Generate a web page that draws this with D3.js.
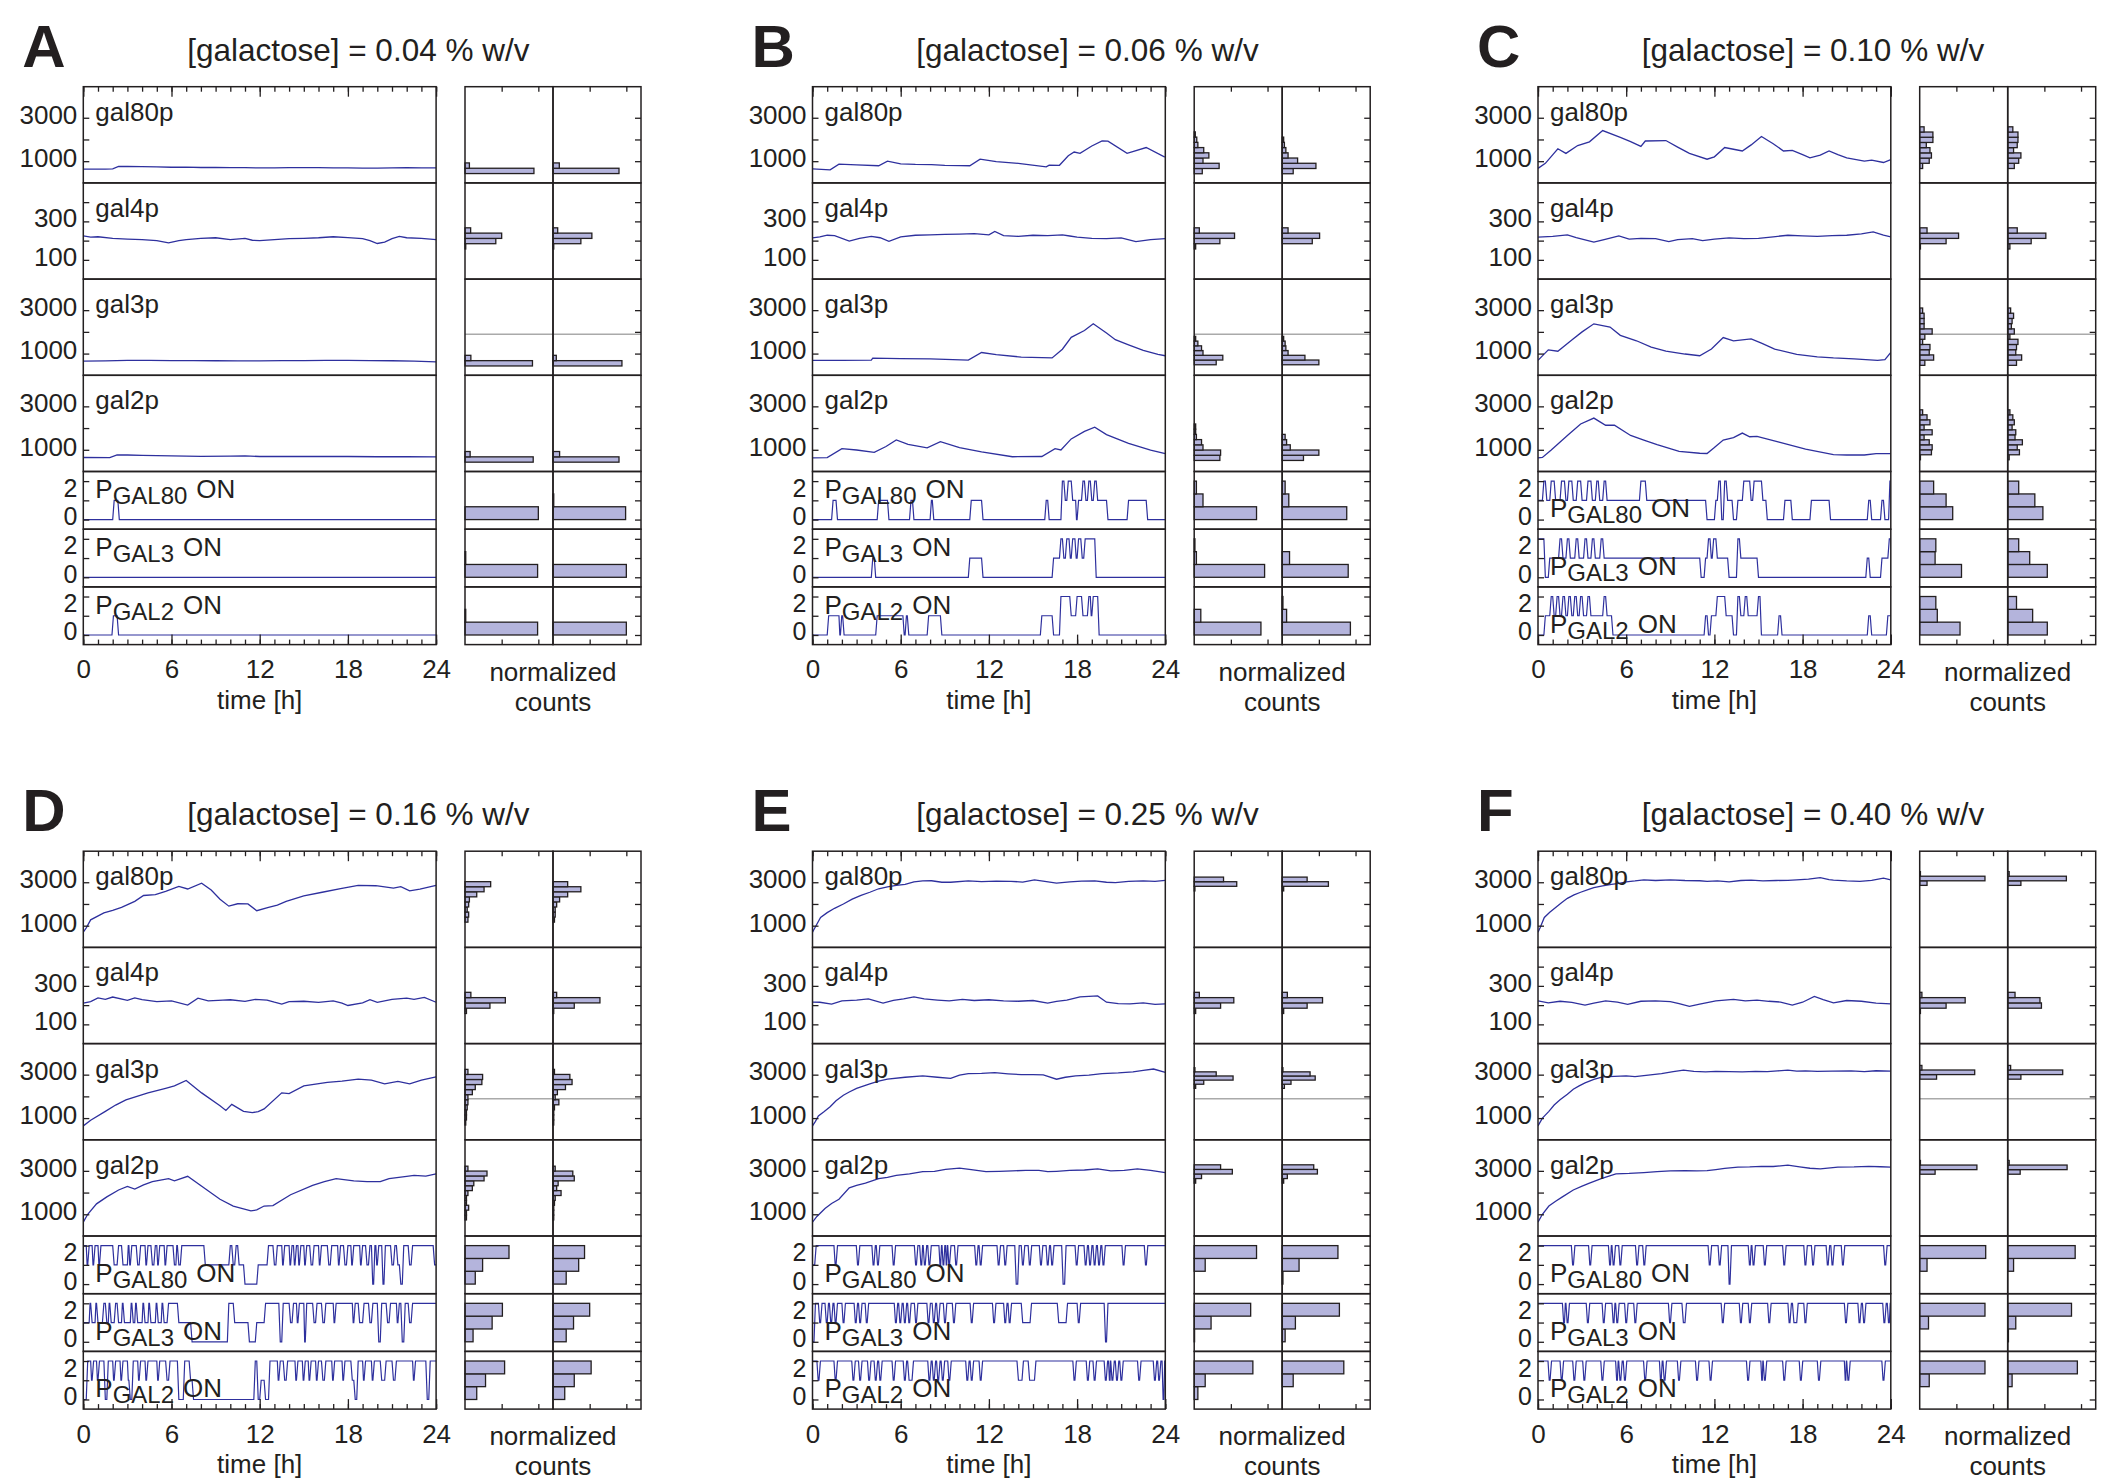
<!DOCTYPE html>
<html>
<head>
<meta charset="utf-8">
<script src="https://d3js.org/d3.v7.min.js"></script>
<style>
body { margin: 0; background: #fff; }
text { font-family: "Liberation Sans", Arial, Helvetica, sans-serif; fill: #231f20; }
</style>
</head>
<body>
<script>
// ---- data ----
var panelIds = ["A", "B", "C", "D", "E", "F"];
var galactose = ["0.04", "0.06", "0.10", "0.16", "0.25", "0.40"];
var timeTicks = [0, 6, 12, 18, 24];
var proteinNames = ["gal80p", "gal4p", "gal3p", "gal2p"];
var promoterNames = ["GAL80", "GAL3", "GAL2"];
var proteinMax = [4430, 500, 4430, 4430];
var proteinTicks = [[1000, 2000, 3000], [100, 200, 300, 400], [1000, 2000, 3000], [1000, 2000, 3000]];
var proteinTickLabels = [[1000, 3000], [100, 300], [1000, 3000], [1000, 3000]];
var promoterTicks = [0, 1, 2];
var promoterTickLabels = [0, 2];
var promoterLabelOnTop = [true, true, false, false, false, false];
var gal3pThreshold = 1890;

// protein traces [time h, molecules], one list per panel A..F
var gal80p = [
  [[0,630],[1.5,630],[2,650],[2.4,755],[3,760],[4,750],[5,740],[6,720],[7,725],[8,710],[9,715],[10,700],[11,705],[12,690],[13,695],[14,700],[15,705],[16,700],[17,695],[18,690],[19,685],[20,680],[21,690],[22,700],[23,695],[24,690]],
  [[0,650],[1.2,600],[1.8,860],[3,830],[4.5,790],[5.1,1000],[6,880],[7,850],[8.1,840],[9,810],[10,800],[10.7,790],[11.4,1090],[12.5,980],[14,900],[15.9,740],[16.1,820],[16.8,810],[17.4,1250],[17.8,1420],[18.2,1360],[19,1700],[19.7,1930],[20.1,1920],[21.4,1360],[22.7,1630],[23.9,1210],[24,1200]],
  [[0,670],[0.5,900],[1.35,1570],[1.9,1360],[2.7,1720],[3.5,1890],[4.4,2410],[5.6,2100],[6.3,1900],[7.0,1680],[7.3,1930],[8.7,1950],[9.5,1650],[10.3,1360],[11.5,1090],[12.0,1200],[12.7,1630],[13.3,1550],[13.9,1470],[14.5,1750],[15.2,2140],[16.0,1800],[16.7,1470],[17.3,1500],[18.0,1300],[18.5,1150],[19.2,1280],[19.8,1470],[20.4,1300],[21,1150],[22.2,1000],[22.7,1050],[23.5,940],[24,1070]],
  [[0,700],[0.2,900],[0.5,1270],[1.4,1590],[2.0,1700],[2.6,1840],[3.5,2120],[4.1,2390],[4.9,2430],[5.6,2580],[6.5,2810],[7.1,2690],[8.05,2960],[8.7,2640],[9.3,2220],[9.9,1900],[10.5,2010],[11.2,2000],[11.8,1690],[12.6,1840],[13.2,1950],[13.8,2120],[15.0,2370],[16.25,2540],[17.5,2710],[18.7,2860],[19.9,2840],[21.1,2730],[21.6,2800],[22.2,2600],[22.9,2680],[24,2860]],
  [[0,700],[0.2,950],[0.55,1380],[1.0,1600],[1.5,1800],[2.1,2000],[2.7,2220],[3.3,2400],[3.9,2540],[4.5,2700],[5.1,2790],[5.7,2860],[6.3,2900],[6.9,3020],[7.5,3060],[8.1,3070],[8.8,3000],[9.4,3000],[10.6,3060],[11.5,3030],[12.5,3050],[13.5,3040],[14.3,3010],[15.1,3110],[15.8,3040],[16.6,2960],[17.5,3020],[18.3,3050],[19.2,3060],[20.0,3000],[20.6,2980],[21.5,3040],[22.5,3060],[23.3,3040],[24,3090]],
  [[0,700],[0.15,920],[0.43,1380],[0.8,1620],[1.2,1840],[1.6,2060],[2.0,2260],[2.45,2420],[2.9,2540],[3.4,2660],[3.8,2750],[4.4,2830],[5.0,2900],[5.5,2950],[6.0,3020],[6.6,3060],[7.2,3110],[8.0,3080],[9.0,3110],[10.0,3080],[11.0,3070],[11.5,3040],[12.2,3060],[13.0,3020],[13.8,3080],[14.5,3100],[15.3,3060],[16.2,3080],[17.0,3090],[17.6,3110],[18.4,3140],[19.2,3210],[19.8,3120],[20.1,3100],[21.0,3060],[21.9,3040],[22.7,3090],[23.5,3190],[24,3110]]
];
var gal4p = [
  [[0,225],[0.5,218],[1,220],[2,212],[3,208],[4,205],[5,200],[5.8,188],[6.5,200],[7,205],[8,212],[9,215],[10,205],[11,212],[11.5,202],[12,200],[13,205],[14,210],[15,212],[16,215],[17,220],[18,216],[19,210],[19.5,200],[20,185],[20.5,192],[21,210],[21.5,222],[22,215],[23,212],[24,205]],
  [[0,214],[0.5,220],[1,228],[1.5,226],[2.5,198],[3.2,212],[4,222],[4.6,215],[5.2,196],[6,220],[7,228],[8,230],[9,232],[10,234],[11,236],[12,230],[12.4,248],[13,226],[14,222],[15,228],[16,226],[17,230],[17.5,224],[18,218],[19,212],[20,210],[21,214],[22,195],[23,205],[24,210]],
  [[0,218],[1,222],[2,230],[2.6,215],[3.8,192],[4.5,205],[5.5,225],[6.2,208],[7,212],[8,210],[8.9,195],[9.5,205],[10.5,210],[11.2,200],[12,208],[13,214],[14,210],[15,212],[16,220],[17,228],[18,225],[19,222],[20,226],[21,228],[22,235],[22.8,245],[23.5,228],[24,220]],
  [[0,210],[0.5,218],[1,238],[1.5,230],[2,242],[3,225],[3.5,238],[4,228],[5,218],[6,222],[7.1,200],[7.8,236],[8.5,222],[9.5,226],[10,228],[11,220],[11.7,230],[12.5,226],[13,215],[13.5,205],[14,218],[15,220],[16,214],[17,222],[17.6,210],[18,198],[19,212],[19.5,228],[20,214],[21,230],[22,236],[22.5,230],[23.2,240],[24,215]],
  [[0,216],[0.5,215],[1.3,205],[2,222],[3,226],[3.8,232],[4.8,210],[5.5,225],[6.2,232],[6.9,243],[7.6,232],[8.5,226],[9.3,222],[10.2,230],[11,224],[12,228],[13,222],[14,220],[15,224],[16,210],[16.6,220],[17.3,226],[18.2,243],[19.4,248],[20,215],[20.8,208],[21.6,206],[22.5,212],[23.3,204],[24,206]],
  [[0,222],[0.7,212],[1.5,220],[2.3,214],[3.2,200],[3.8,210],[4.6,222],[5.4,216],[6.1,204],[7.0,220],[8.0,222],[9.0,218],[9.6,208],[10.3,194],[11.0,205],[12.1,222],[13.3,230],[14.1,222],[14.9,226],[15.7,220],[16.5,216],[17.3,200],[18.0,215],[18.8,245],[19.4,228],[20.1,212],[21.0,224],[22,220],[23,210],[24,206]]
];
var gal3p = [
  [[0,650],[1.5,660],[3,690],[4.5,685],[6,680],[7.5,672],[9,670],[10.5,668],[12,665],[13.5,672],[15,680],[16.5,686],[18,690],[19.5,680],[21,670],[22.5,650],[24,620]],
  [[0,690],[2,685],[4,700],[4.1,790],[6,770],[8,760],[10.6,700],[11.5,1050],[12.5,950],[14.2,840],[16.3,800],[17,1200],[17.6,1750],[18.5,2060],[19.1,2370],[20,1950],[20.6,1640],[21.5,1400],[22.5,1150],[23.5,960],[24,900]],
  [[0,690],[0.7,1170],[1.35,1110],[2.3,1630],[3.0,2000],[3.8,2370],[4.9,2220],[5.6,1840],[6.7,1590],[7.7,1300],[8.7,1110],[10,980],[11.0,900],[11.8,1210],[12.6,1740],[13.3,1590],[14.5,1680],[15.2,1480],[16.1,1210],[17.6,960],[19,850],[20.1,800],[21.5,760],[23.1,690],[23.6,720],[24,1050]],
  [[0,640],[0.5,900],[1.5,1310],[2.2,1600],[2.9,1840],[4.4,2160],[5.6,2370],[6.2,2480],[7.0,2730],[8.05,2160],[9.3,1570],[9.7,1350],[10.1,1630],[10.9,1310],[11.5,1250],[11.9,1300],[12.3,1420],[13.5,2160],[14.0,2130],[15.0,2480],[16.6,2640],[17.6,2700],[18.7,2790],[19.6,2750],[20.5,2580],[21.4,2690],[22.2,2580],[23,2750],[24,2900]],
  [[0,640],[0.2,850],[0.4,1100],[0.8,1300],[1.2,1520],[1.6,1800],[2.1,2050],[2.5,2200],[3.0,2370],[3.9,2580],[4.5,2700],[5.1,2790],[6.3,2880],[7.5,2940],[8.5,2880],[9.4,2830],[10.0,2980],[10.6,3050],[11.5,3060],[12.4,3090],[13.3,3040],[14.2,3000],[15.0,3000],[15.7,2990],[16.6,2790],[17.2,2880],[17.9,2940],[18.8,2980],[19.7,3050],[20.8,3080],[21.8,3130],[22.5,3200],[23.2,3260],[24,3110]],
  [[0,640],[0.3,1000],[0.74,1310],[1.1,1600],[1.5,1840],[2.0,2100],[2.4,2330],[2.8,2480],[3.2,2620],[3.8,2780],[4.4,2900],[5.2,2920],[6.0,2940],[6.6,2910],[7.5,2980],[8.4,3050],[9.2,3140],[9.9,3210],[10.6,3150],[11.4,3130],[12.1,3150],[13.0,3140],[13.9,3130],[14.8,3150],[15.6,3140],[16.3,3170],[17.0,3210],[17.6,3160],[18.2,3170],[19.0,3150],[20.0,3160],[21.3,3170],[22.2,3140],[23.0,3180],[24,3160]]
];
var gal2p = [
  [[0,645],[1.8,640],[2.3,770],[3,760],[4,740],[6,720],[8,700],[10,710],[11,720],[12,690],[14,690],[16,690],[18,690],[20,680],[22,680],[24,670]],
  [[0,630],[1,640],[2,1050],[3,990],[4.2,880],[5,1150],[5.7,1450],[6.5,1250],[7.8,1090],[8.7,1370],[10,1100],[11.5,900],[13.6,680],[15.6,690],[16.5,1050],[16.9,990],[17.6,1500],[18.5,1850],[19.2,2040],[20,1700],[21.5,1300],[23,980],[24,820]],
  [[0,630],[0.3,650],[0.9,990],[2.0,1660],[2.9,2190],[3.8,2460],[4.6,2130],[5.2,2130],[6.3,1660],[7.2,1450],[8.1,1240],[9.6,930],[11.0,840],[11.5,830],[12.0,1100],[12.6,1450],[13.3,1560],[13.9,1770],[14.4,1600],[14.9,1620],[16.4,1350],[18.2,1030],[20.1,780],[21,760],[22.2,760],[23,820],[24,820]],
  [[0,640],[0.3,1000],[0.9,1480],[1.6,1800],[2.4,2120],[3.0,2280],[3.5,2160],[4.1,2350],[4.7,2500],[5.8,2640],[6.2,2540],[7.1,2750],[8.2,2220],[9.3,1690],[10.2,1380],[11.4,1160],[11.8,1200],[12.3,1380],[12.9,1400],[14.1,1900],[15.6,2330],[16.4,2500],[17.2,2640],[18.4,2540],[19.3,2500],[20.2,2500],[20.8,2640],[22.0,2750],[22.5,2790],[23.3,2760],[24,2860]],
  [[0,640],[0.3,900],[0.85,1270],[1.3,1500],[1.8,1690],[2.5,2220],[3.0,2330],[3.6,2430],[4.5,2640],[5.1,2700],[5.7,2790],[6.6,2860],[7.5,2960],[8.3,2980],[9.05,3070],[10.0,3130],[10.8,3060],[11.8,2960],[12.7,2980],[13.6,3000],[14.5,3020],[15.4,3020],[16.0,2960],[16.6,2980],[17.5,3020],[18.5,3040],[19.4,3090],[20.3,3000],[21.2,3020],[22.1,3090],[23.0,3020],[24,2920]],
  [[0,640],[0.3,1000],[0.74,1380],[1.2,1600],[1.66,1800],[2.4,2120],[3.0,2300],[3.5,2430],[4.3,2640],[5.3,2860],[6.2,2880],[7.2,2920],[8.1,2960],[9.0,3000],[10.0,3010],[10.8,3000],[11.5,3010],[12.1,3060],[12.7,3110],[13.6,3170],[14.4,3180],[15.2,3210],[16.0,3200],[17.0,3260],[17.8,3180],[18.5,3120],[19.2,3090],[20.4,3170],[21.5,3180],[22.5,3210],[23.3,3190],[24,3170]]
];

// promoter switching events [time h, number of ON promoters]
var pGAL80 = [
  [[0,0],[2.0,1],[2.35,0]],
  [[0,0],[1.3,1],[1.6,0],[4.4,1],[5.1,0],[6.6,1],[6.8,0],[8.0,1],[8.15,0],[10.7,1],[11.5,0],[15.8,1],[16.0,0],[16.9,2],[17.1,1],[17.3,2],[17.6,1],[17.9,0],[18.0,1],[18.3,2],[18.5,1],[18.7,2],[18.9,1],[19.1,2],[19.3,1],[20.0,0],[21.4,1],[22.7,0]],
  [[0,1],[0.3,2],[0.5,1],[0.8,2],[1.1,1],[1.5,2],[1.8,1],[2.0,2],[2.3,1],[2.6,2],[2.9,1],[3.3,2],[3.6,1],[3.9,2],[4.1,1],[4.4,2],[4.6,1],[6.9,2],[7.3,1],[11.4,0],[12.0,1],[12.2,2],[12.4,0],[12.6,2],[12.8,1],[13.2,0],[13.5,1],[13.9,2],[14.4,1],[14.6,2],[15.2,1],[15.5,0],[16.7,1],[17.2,0],[18.5,1],[19.8,0],[22.4,1],[22.6,0],[23.3,1],[23.5,0],[23.85,2]],
  [[0,2],[0.2,1],[0.3,2],[0.6,1],[0.7,2],[1.0,1],[1.1,2],[2.0,1],[2.3,2],[2.6,1],[3.0,2],[3.1,1],[3.2,2],[3.6,1],[3.8,2],[4.2,1],[4.3,2],[4.6,1],[4.8,2],[5.0,1],[5.1,2],[5.5,1],[5.6,2],[6.1,1],[6.3,2],[6.4,1],[6.6,2],[8.2,1],[9.9,2],[10.1,1],[10.3,2],[10.5,1],[10.9,0],[11.8,1],[12.5,2],[12.9,1],[13.1,2],[13.5,1],[13.6,2],[14.0,1],[14.1,2],[14.3,1],[14.4,2],[14.6,1],[14.7,2],[15.0,1],[15.1,2],[15.4,1],[15.6,2],[16.0,1],[16.1,2],[16.6,1],[16.8,2],[17.3,1],[17.4,2],[17.7,1],[17.9,2],[18.2,1],[18.3,2],[18.8,1],[18.9,2],[19.2,1],[19.4,2],[19.6,0],[19.75,2],[19.9,1],[20.0,2],[20.3,0],[20.45,2],[20.9,1],[21.1,2],[21.3,1],[21.5,0],[21.7,2],[22.1,1],[22.3,2],[23.8,1]],
  [[0,1],[0.15,2],[1.46,1],[1.6,2],[2.98,1],[3.12,2],[4.04,1],[4.18,2],[4.34,1],[4.48,2],[5.41,1],[5.55,2],[6.93,1],[7.07,2],[7.29,1],[7.43,2],[7.53,1],[7.67,2],[7.84,1],[7.98,2],[8.6,1],[8.72,2],[8.81,1],[8.93,2],[9.05,1],[9.13,2],[9.2,1],[9.32,2],[9.66,1],[9.8,2],[11.03,1],[11.17,2],[11.33,1],[11.47,2],[12.55,1],[12.69,2],[13.0,1],[13.14,2],[13.76,0],[13.96,2],[14.2,1],[14.34,2],[14.67,1],[14.81,2],[15.43,1],[15.57,2],[15.89,1],[16.03,2],[16.19,1],[16.33,2],[16.95,0],[17.15,2],[17.86,1],[18.0,2],[18.47,1],[18.61,2],[18.77,1],[18.91,2],[19.08,1],[19.22,2],[19.38,1],[19.52,2],[19.68,1],[19.82,2],[21.05,1],[21.19,2],[22.57,1],[22.71,2]],
  [[0,2],[2.27,1],[2.41,2],[3.44,1],[3.58,2],[4.79,1],[4.93,2],[5.03,1],[5.17,2],[5.49,1],[5.63,2],[6.63,1],[6.77,2],[7.12,1],[7.26,2],[11.57,1],[11.71,2],[12.25,1],[12.39,2],[12.92,0],[13.06,2],[14.3,1],[14.44,2],[14.55,1],[14.69,2],[15.32,1],[15.46,2],[16.64,1],[16.78,2],[18.08,1],[18.22,2],[18.6,1],[18.74,2],[19.6,1],[19.74,2],[19.92,1],[20.06,2],[20.63,1],[20.77,2],[23.51,1],[23.65,2]]
];
var pGAL3 = [
  [[0,0]],
  [[0,0],[4.0,1],[4.2,0],[10.6,1],[11.5,0],[16.3,1],[16.8,2],[17.0,1],[17.2,2],[17.45,1],[17.6,2],[17.85,1],[18.0,2],[18.25,1],[18.45,2],[19.2,0]],
  [[0,2],[0.4,0],[0.7,1],[1.4,2],[1.6,1],[1.9,2],[2.1,1],[2.5,2],[2.7,1],[3.1,2],[3.3,1],[3.6,2],[3.8,1],[4.2,2],[4.4,1],[11.0,0],[11.3,1],[11.5,2],[11.7,1],[11.85,2],[12.1,1],[12.9,0],[13.5,2],[13.7,1],[14.9,0],[22.3,1],[22.5,0],[23.3,1],[23.8,2]],
  [[0,1],[0.4,2],[0.5,1],[0.8,2],[0.9,1],[1.3,2],[1.5,1],[1.7,2],[1.8,1],[2.1,2],[2.3,1],[2.6,2],[2.7,1],[3.2,2],[3.3,1],[3.5,2],[3.6,1],[4.0,2],[4.1,1],[4.4,2],[4.5,1],[4.9,2],[5.0,1],[5.3,2],[5.4,1],[5.7,2],[6.4,1],[7.3,0],[9.8,2],[10.2,1],[11.2,0],[11.7,1],[12.3,2],[13.3,0],[13.5,2],[14.0,1],[14.2,2],[14.5,1],[14.6,2],[15.0,0],[15.1,2],[15.6,1],[15.8,2],[16.2,1],[16.4,2],[17.0,1],[17.1,2],[18.3,1],[18.4,2],[18.7,1],[19.0,2],[19.4,1],[19.6,2],[20.0,0],[20.2,2],[20.6,1],[20.8,2],[21.3,1],[21.4,2],[21.6,0],[21.8,2],[22.1,1],[22.3,2]],
  [[0,0],[0.1,2],[0.4,1],[0.55,2],[0.85,1],[1.0,2],[1.15,1],[1.3,2],[1.46,1],[1.6,2],[2.0,1],[2.14,2],[2.83,1],[2.97,2],[3.13,1],[3.27,2],[3.58,1],[3.72,2],[5.56,1],[5.7,2],[5.86,1],[6.0,2],[6.17,1],[6.31,2],[6.47,1],[6.61,2],[6.93,1],[7.07,2],[7.78,1],[7.92,2],[8.14,1],[8.28,2],[8.44,1],[8.58,2],[8.9,1],[9.04,2],[9.51,1],[9.65,2],[10.72,1],[10.86,2],[12.24,1],[12.38,2],[13.0,1],[13.14,2],[13.3,1],[13.44,2],[14.2,1],[14.8,2],[16.65,1],[17.25,2],[18.0,1],[18.14,2],[19.84,0],[20.0,2]],
  [[0,2],[1.66,1],[1.8,2],[1.9,1],[2.04,2],[3.28,1],[3.42,2],[4.36,1],[4.5,2],[5.03,1],[5.17,2],[5.28,1],[5.42,2],[5.89,1],[6.03,2],[6.51,1],[6.65,2],[8.87,1],[9.01,2],[9.79,1],[10.0,2],[12.46,1],[12.6,2],[13.69,1],[13.83,2],[14.3,1],[14.44,2],[15.62,1],[15.76,2],[17.0,1],[17.14,2],[17.31,1],[17.6,2],[18.08,1],[18.22,2],[20.84,1],[20.98,2],[21.76,1],[21.9,2],[22.07,1],[22.21,2],[23.45,1],[23.59,2],[23.76,1],[23.9,2]]
];
var pGAL2 = [
  [[0,0],[1.95,1],[2.3,0]],
  [[0,0],[1.0,1],[1.8,0],[1.9,1],[2.05,0],[4.3,1],[6.15,0],[6.3,1],[6.45,0],[7.8,1],[8.7,0],[15.5,1],[16.3,0],[16.8,2],[17.5,1],[17.9,2],[18.3,1],[18.7,2],[18.9,1],[19.0,2],[19.4,0]],
  [[0,0],[0.4,1],[0.8,2],[1.0,1],[1.2,2],[1.4,1],[1.6,2],[1.8,1],[2.0,2],[2.2,1],[2.4,2],[2.6,1],[2.8,2],[3.0,1],[3.3,2],[3.5,1],[4.4,2],[4.6,1],[5.0,0],[11.3,1],[11.5,0],[11.7,1],[12.1,2],[12.7,1],[13.2,0],[13.5,2],[13.7,1],[14.0,2],[14.2,1],[14.9,2],[15.1,0],[16.3,1],[16.5,0],[22.4,1],[22.6,0],[23.7,1]],
  [[0,0],[0.2,2],[0.5,1],[0.6,2],[0.9,1],[1.0,2],[1.4,0],[1.6,2],[2.0,1],[2.1,2],[2.5,1],[2.6,2],[3.0,1],[3.1,0],[3.3,2],[3.7,1],[3.8,2],[4.2,1],[4.3,2],[5.0,1],[5.1,2],[5.6,1],[5.8,2],[6.4,0],[6.8,2],[7.2,1],[7.4,0],[11.6,2],[11.8,0],[12.0,1],[12.3,0],[12.6,2],[13.2,1],[13.3,2],[13.6,1],[13.8,2],[14.4,1],[14.5,2],[14.9,1],[15.0,2],[15.3,1],[15.4,2],[15.8,1],[15.9,2],[16.2,1],[16.4,2],[16.9,1],[17.0,2],[17.6,1],[17.7,2],[18.2,1],[18.4,0],[18.6,2],[19.0,1],[19.1,2],[19.6,1],[19.7,2],[20.2,1],[20.5,2],[21.0,1],[21.2,2],[22.4,1],[22.5,2],[23.3,0],[23.5,2]],
  [[0,2],[0.3,1],[0.44,2],[1.46,1],[1.6,2],[2.67,1],[2.81,2],[3.13,1],[3.27,2],[3.74,1],[3.88,2],[4.19,1],[4.33,2],[4.5,1],[4.64,2],[5.41,1],[5.55,2],[6.17,1],[6.31,2],[6.47,1],[6.77,2],[7.84,1],[7.98,2],[8.14,1],[8.28,2],[8.44,1],[8.58,2],[8.75,1],[8.89,2],[9.2,1],[9.34,2],[10.42,1],[10.56,2],[10.72,1],[10.86,2],[11.33,1],[11.47,2],[13.91,1],[14.25,2],[14.67,1],[15.1,2],[17.71,1],[17.85,2],[18.62,1],[18.76,2],[19.08,1],[19.22,2],[19.84,1],[19.98,2],[20.14,1],[20.24,2],[20.29,1],[20.43,2],[20.6,1],[20.74,2],[20.9,1],[21.04,2],[22.11,1],[22.25,2],[23.18,1],[23.32,2],[23.48,1],[23.6,2],[23.78,0],[23.9,2]],
  [[0,2],[0.68,1],[0.82,2],[1.5,1],[1.64,2],[2.36,1],[2.5,2],[3.04,1],[3.18,2],[4.27,1],[4.41,2],[5.28,1],[5.4,2],[5.49,1],[5.63,2],[5.8,1],[5.94,2],[7.18,1],[7.32,2],[8.26,1],[8.38,2],[8.5,1],[8.64,2],[9.48,1],[9.62,2],[10.71,1],[10.85,2],[11.63,1],[11.77,2],[14.18,1],[14.32,2],[15.16,1],[15.26,2],[15.32,1],[15.46,2],[16.64,1],[16.78,2],[17.77,1],[17.91,2],[19.0,1],[19.14,2],[20.84,1],[20.94,2],[21.0,1],[21.14,2],[23.39,1],[23.53,2]]
];

// protein histograms: [first bin edge, bin width, counts column 1 (low->high), counts column 2]
var histGal80p = [
  [430, 245, [0.94, 0.06], [0.90, 0.086]],
  [422, 241, [0.11, 0.34, 0.12, 0.20, 0.13, 0.05, 0.035, 0.015], [0.15, 0.46, 0.21, 0.08, 0.05, 0.03, 0.02]],
  [663, 240, [0.04, 0.13, 0.16, 0.14, 0.09, 0.18, 0.18, 0.06], [0.09, 0.15, 0.18, 0.08, 0.13, 0.14, 0.14, 0.07]],
  [1163, 233, [0.04, 0.05, 0.03, 0.05, 0.06, 0.16, 0.26, 0.35], [0.02, 0.03, 0.03, 0.05, 0.09, 0.20, 0.38, 0.20]],
  [2601, 212, [0.01, 0.58, 0.40], [0.02, 0.63, 0.34]],
  [2856, 211, [0.10, 0.89, 0.01], [0.18, 0.80, 0.02]]
];
var histGal4p = [
  [156.5, 27.5, [0.01, 0.42, 0.50, 0.077], [0.01, 0.38, 0.53, 0.064]],
  [156.5, 27.5, [0.02, 0.35, 0.55, 0.07], [0, 0.41, 0.51, 0.08]],
  [156.5, 27.5, [0.01, 0.36, 0.53, 0.10], [0.03, 0.32, 0.52, 0.13]],
  [156.5, 27.5, [0.02, 0.34, 0.55, 0.08], [0.01, 0.29, 0.64, 0.05]],
  [156.5, 27.5, [0.02, 0.36, 0.54, 0.07], [0.02, 0.34, 0.55, 0.07]],
  [156.5, 27.5, [0.01, 0.36, 0.62, 0.03], [0, 0.46, 0.44, 0.10]]
];
var histGal3p = [
  [430, 245, [0.92, 0.08], [0.94, 0.045]],
  [485, 218, [0.30, 0.39, 0.12, 0.10, 0.05, 0.02], [0.50, 0.31, 0.08, 0.05, 0.04, 0.02]],
  [459, 240, [0.07, 0.19, 0.13, 0.14, 0.04, 0.07, 0.17, 0.06, 0.06, 0.06, 0.04], [0.12, 0.19, 0.11, 0.12, 0.14, 0.03, 0.09, 0.05, 0.06, 0.08, 0.04]],
  [680, 233, [0.01, 0.02, 0.02, 0.03, 0.04, 0.04, 0.10, 0.14, 0.23, 0.24, 0.04], [0.01, 0.01, 0.01, 0.02, 0.08, 0.03, 0.06, 0.17, 0.26, 0.23, 0.02]],
  [2369, 190, [0.02, 0.13, 0.53, 0.30, 0.01], [0.03, 0.12, 0.45, 0.38, 0.01]],
  [2792, 211, [0.23, 0.75, 0.03], [0.18, 0.75, 0.04]]
];
var histGal2p = [
  [430, 245, [0.93, 0.07], [0.90, 0.09]],
  [509, 240, [0.35, 0.36, 0.12, 0.10, 0.03, 0.02, 0.02], [0.29, 0.50, 0.11, 0.06, 0.04]],
  [540, 230, [0.01, 0.16, 0.17, 0.13, 0.06, 0.17, 0.06, 0.14, 0.10, 0.04], [0.02, 0.16, 0.13, 0.20, 0.10, 0.11, 0.06, 0.09, 0.07, 0.03]],
  [740, 225, [0.02, 0.02, 0.05, 0.02, 0.02, 0.04, 0.10, 0.12, 0.26, 0.30, 0.04], [0.01, 0.01, 0.01, 0.02, 0.03, 0.11, 0.05, 0.07, 0.29, 0.27, 0.03]],
  [2434, 211, [0.02, 0.10, 0.52, 0.36], [0.02, 0.07, 0.48, 0.43]],
  [2845, 211, [0.21, 0.78, 0.01], [0.17, 0.81, 0.02]]
];
// promoter histograms: fraction of time with 0, 1, 2 promoters ON, two columns
var histPGAL80 = [
  [[1.0, 0, 0], [0.99, 0.01, 0]],
  [[0.85, 0.12, 0.03], [0.88, 0.09, 0.04]],
  [[0.45, 0.36, 0.19], [0.48, 0.37, 0.15]],
  [[0.14, 0.24, 0.60], [0.18, 0.35, 0.43]],
  [[0, 0.15, 0.85], [0.01, 0.23, 0.76]],
  [[0, 0.10, 0.90], [0, 0.08, 0.92]]
];
var histPGAL3 = [
  [[0.99, 0.01, 0], [1.0, 0, 0]],
  [[0.96, 0.03, 0.01], [0.90, 0.10, 0]],
  [[0.57, 0.21, 0.22], [0.54, 0.30, 0.15]],
  [[0.11, 0.37, 0.51], [0.18, 0.28, 0.50]],
  [[0.005, 0.23, 0.77], [0.04, 0.18, 0.78]],
  [[0, 0.12, 0.89], [0.01, 0.11, 0.87]]
];
var histPGAL2 = [
  [[0.99, 0.01, 0], [1.0, 0, 0]],
  [[0.91, 0.09, 0], [0.93, 0.06, 0.01]],
  [[0.55, 0.24, 0.22], [0.54, 0.34, 0.12]],
  [[0.16, 0.28, 0.54], [0.16, 0.29, 0.52]],
  [[0.05, 0.15, 0.80], [0, 0.15, 0.84]],
  [[0, 0.13, 0.89], [0, 0.06, 0.95]]
];

var proteinSeries = [gal80p, gal4p, gal3p, gal2p];
var promoterSeries = [pGAL80, pGAL3, pGAL2];
var proteinHists = [histGal80p, histGal4p, histGal3p, histGal2p];
var promoterHists = [histPGAL80, histPGAL3, histPGAL2];

// ---- layout ----
var panelLeft = [83.3, 812.5, 1538, 83.3, 812.5, 1538];
var panelTop = [86.7, 86.7, 86.7, 851.2, 851.2, 851.2];
var plotW = 352.8, protH = 96.2, promH = 57.7;
var histOff = 381.7, histW = 88;
var totalH = 4 * protH + 3 * promH;
var ink = "#231f20", traceColor = "#2e309e", barFill = "#b4b4dc";
var fontFam = '"Liberation Sans", Arial, Helvetica, sans-serif';

var svg = d3.select("body").append("svg")
    .attr("width", 2105)
    .attr("height", 1484);

svg.append("rect").attr("width", 2105).attr("height", 1484).attr("fill", "#fff");

function styleAxis(sel, size) {
    sel.attr("font-family", fontFam).attr("font-size", size || 26);
    sel.select(".domain").remove();
    sel.selectAll("line").attr("stroke", ink).attr("stroke-width", 1.3);
    sel.selectAll("text").attr("fill", ink);
    // ticks without a label keep no empty text node
    sel.selectAll(".tick text").filter(function() { return this.textContent === ""; }).remove();
    return sel;
}

// turn switching events into a polyline with a short ramp at each switch
function promoterPoints(events) {
    var pts = [[0, events[0][1]]];
    for (var k = 1; k < events.length; k++) {
        var next = k + 1 < events.length ? events[k + 1][0] : 24;
        var ramp = Math.min(0.1, (next - events[k][0]) * 0.6);
        pts.push([events[k][0], events[k - 1][1]]);
        pts.push([events[k][0] + ramp, events[k][1]]);
    }
    pts.push([24, events[events.length - 1][1]]);
    return pts;
}

function drawHist(g, y, bins, counts, c, hx) {
    var hg = g.append("g").attr("transform", "translate(" + (histOff + c * histW) + ",0)");
    hg.selectAll("rect")
        .data(bins.map(function(b, k) { return {a: b[0], b: b[1], n: counts[k]}; })
            .filter(function(d) { return d.n > 0; }))
        .enter().append("rect")
        .attr("x", 0)
        .attr("y", function(d) { return y(d.b); })
        .attr("width", function(d) { return hx(d.n); })
        .attr("height", function(d) { return y(d.a) - y(d.b); })
        .attr("fill", barFill)
        .attr("stroke", ink)
        .attr("stroke-width", 1.3);
}

panelIds.forEach(function(id, i) {
    var g = svg.append("g")
        .attr("transform", "translate(" + panelLeft[i] + "," + panelTop[i] + ")");

    var x = d3.scaleLinear().domain([0, 24]).range([0, plotW]);
    var hx = d3.scaleLinear().domain([0, 1.2]).range([0, histW]);
    var line = d3.line();

    // panel letter and title
    g.append("text")
        .attr("x", -61).attr("y", -20)
        .attr("font-size", 60).attr("font-weight", "bold")
        .text(id);
    g.append("text")
        .attr("x", 275).attr("y", -26)
        .attr("text-anchor", "middle")
        .attr("font-size", 31.5)
        .text("[galactose] = " + galactose[i] + " % w/v");

    // protein rows
    proteinNames.forEach(function(name, r) {
        var top = r * protH;
        var y = d3.scaleLinear().domain([0, proteinMax[r]]).range([top + protH, top]);
        var clipId = "clip" + id + "p" + r;
        g.append("clipPath").attr("id", clipId)
            .append("rect").attr("x", 0).attr("y", top).attr("width", plotW).attr("height", protH);

        line.x(function(d) { return x(d[0]); }).y(function(d) { return y(d[1]); });
        g.append("path")
            .datum(proteinSeries[r][i])
            .attr("clip-path", "url(#" + clipId + ")")
            .attr("fill", "none")
            .attr("stroke", traceColor)
            .attr("stroke-width", 1.3)
            .attr("d", line);

        g.append("text")
            .attr("x", 12).attr("y", top + 34)
            .attr("font-size", 26)
            .text(name);

        var ax = g.append("g").call(d3.axisLeft(y)
            .tickValues(proteinTicks[r]).tickSize(-6).tickPadding(6)
            .tickFormat(function(d) { return proteinTickLabels[r].indexOf(d) >= 0 ? d : ""; }));
        styleAxis(ax).selectAll(".tick text").attr("y", -3);

        // histograms
        var h = proteinHists[r][i];
        var bins = h[2].concat(h[3]).map(function(_, k) { return [h[0] + k * h[1], h[0] + (k + 1) * h[1]]; });
        if (r === 2) {
            g.append("line")
                .attr("x1", histOff).attr("x2", histOff + 2 * histW)
                .attr("y1", y(gal3pThreshold)).attr("y2", y(gal3pThreshold))
                .attr("stroke", "#aaaaaa").attr("stroke-width", 1.6);
        }
        drawHist(g, y, bins, h[2], 0, hx);
        drawHist(g, y, bins, h[3], 1, hx);

        styleAxis(g.append("g")
            .attr("transform", "translate(" + (histOff + 2 * histW) + ",0)")
            .call(d3.axisRight(y).tickValues(proteinTicks[r]).tickSize(-6).tickFormat("")));
    });

    // promoter rows
    promoterNames.forEach(function(name, r) {
        var top = 4 * protH + r * promH;
        var y = d3.scaleLinear().domain([-0.5, 2.5]).range([top + promH, top]);
        var clipId = "clip" + id + "q" + r;
        g.append("clipPath").attr("id", clipId)
            .append("rect").attr("x", 0).attr("y", top).attr("width", plotW).attr("height", promH);

        line.x(function(d) { return x(d[0]); }).y(function(d) { return y(d[1]); });
        g.append("path")
            .datum(promoterPoints(promoterSeries[r][i]))
            .attr("clip-path", "url(#" + clipId + ")")
            .attr("fill", "none")
            .attr("stroke", traceColor)
            .attr("stroke-width", 1.2)
            .attr("d", line);

        var lbl = g.append("text")
            .attr("x", 12)
            .attr("y", top + (promoterLabelOnTop[i] ? 27 : 46))
            .attr("font-size", 26);
        lbl.append("tspan").text("P");
        lbl.append("tspan").attr("dy", 6).attr("font-size", 24).text(name);
        lbl.append("tspan").attr("dy", -6).attr("dx", 9).text("ON");

        var ax = g.append("g").call(d3.axisLeft(y)
            .tickValues(promoterTicks).tickSize(-6).tickPadding(6)
            .tickFormat(function(d) { return promoterTickLabels.indexOf(d) >= 0 ? d : ""; }));
        styleAxis(ax, 25);
        ax.selectAll(".tick text").attr("y", function(d) { return d === 2 ? 7 : -3; });

        var h = promoterHists[r][i];
        var bins = [0, 1, 2].map(function(k) { return [k * 2 / 3, (k + 1) * 2 / 3]; });
        drawHist(g, y, bins, h[0], 0, hx);
        drawHist(g, y, bins, h[1], 1, hx);

        styleAxis(g.append("g")
            .attr("transform", "translate(" + (histOff + 2 * histW) + ",0)")
            .call(d3.axisRight(y).tickValues(promoterTicks).tickSize(-6).tickFormat("")));
    });

    // frames for every row
    var rowTops = [0, protH, 2 * protH, 3 * protH, 4 * protH, 4 * protH + promH, 4 * protH + 2 * promH];
    var rowHs = [protH, protH, protH, protH, promH, promH, promH];
    rowTops.forEach(function(t, k) {
        [[0, plotW], [histOff, histW], [histOff + histW, histW]].forEach(function(b) {
            g.append("rect")
                .attr("x", b[0]).attr("y", t)
                .attr("width", b[1]).attr("height", rowHs[k])
                .attr("fill", "none")
                .attr("stroke", ink)
                .attr("stroke-width", 1.5);
        });
    });

    // time axes (top and bottom)
    var xb = g.append("g").attr("transform", "translate(0," + totalH + ")");
    styleAxis(xb.append("g").call(d3.axisBottom(x).tickValues(d3.range(0, 25)).tickSize(-5).tickFormat("")));
    styleAxis(xb.append("g").call(d3.axisBottom(x).tickValues(timeTicks).tickSize(-10).tickPadding(15)));
    styleAxis(g.append("g").call(d3.axisTop(x).tickValues(d3.range(0, 25)).tickSize(-5).tickFormat("")));
    styleAxis(g.append("g").call(d3.axisTop(x).tickValues(timeTicks).tickSize(-10).tickFormat("")));

    // histogram count axes
    [0, 1].forEach(function(c) {
        var left = histOff + c * histW;
        styleAxis(g.append("g").attr("transform", "translate(" + left + "," + totalH + ")")
            .call(d3.axisBottom(hx).tickValues([0.5, 1]).tickSize(-5).tickFormat("")));
        styleAxis(g.append("g").attr("transform", "translate(" + left + ",0)")
            .call(d3.axisTop(hx).tickValues([0.5, 1]).tickSize(-5).tickFormat("")));
    });

    // axis titles
    g.append("text")
        .attr("x", plotW / 2).attr("y", totalH + 64)
        .attr("text-anchor", "middle").attr("font-size", 26)
        .text("time [h]");
    g.append("text")
        .attr("x", histOff + histW).attr("y", totalH + 36)
        .attr("text-anchor", "middle").attr("font-size", 26)
        .text("normalized");
    g.append("text")
        .attr("x", histOff + histW).attr("y", totalH + 66)
        .attr("text-anchor", "middle").attr("font-size", 26)
        .text("counts");
});
</script>
</body>
</html>
